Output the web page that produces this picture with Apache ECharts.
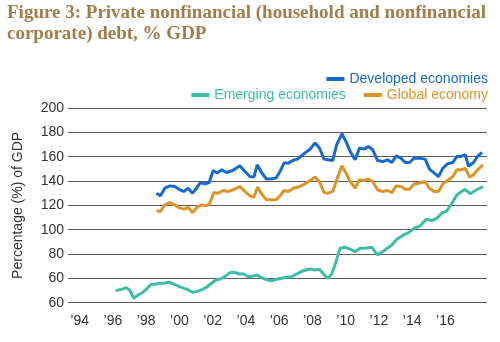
<!DOCTYPE html>
<html>
<head>
<meta charset="utf-8">
<script src="https://cdn.jsdelivr.net/npm/echarts@6/dist/echarts.min.js"></script>
<style>html,body{margin:0;padding:0;background:#fff}#c{width:500px;height:342px}</style>
</head>
<body>
<div id="c"></div>
<script>
// Tick labels
const xTickYears = [1994,1996,1998,2000,2002,2004,2006,2008,2010,2012,2014,2016];
const yTickValues = [40,60,80,100,120,140,160,180,200];
const yTickLabels = ['60','60','80','100','120','140','160','180','200'];

// Emerging economies
const emergingYears = [1996.17,1996.5,1996.8,1997.0,1997.27,1997.5,1997.77,1998.0,1998.3,1998.57,1998.77,1999.06,1999.4,1999.7,2000.0,2000.46,2000.79,2001.03,2001.33,2001.63,2001.93,2002.19,2002.43,2002.73,2003.04,2003.3,2003.6,2003.88,2004.14,2004.44,2004.68,2005.0,2005.3,2005.6,2005.84,2006.15,2006.45,2006.75,2007.05,2007.45,2007.86,2008.16,2008.42,2008.66,2008.92,2009.16,2009.42,2009.66,2009.96,2010.26,2010.57,2010.87,2011.17,2011.57,2011.91,2012.23,2012.51,2012.78,2013.08,2013.48,2013.78,2014.12,2014.48,2014.84,2015.19,2015.49,2015.79,2016.09,2016.39,2016.69,2017.05,2017.19,2017.5,2017.8,2018.26];
const emergingValues = [49.9,51.0,52.3,50.5,43.6,46.3,48.2,51.0,55.1,55.1,56.0,56.0,56.8,55.1,53.2,51.0,48.6,49.1,50.5,52.7,56.0,58.7,59.3,61.4,64.7,65.0,63.6,63.6,61.4,62.0,62.8,60.1,58.7,58.1,59.3,60.1,60.9,61.4,63.6,66.3,67.7,66.9,67.5,63.6,60.1,63.6,73.7,84.8,85.6,84.0,82.0,84.8,84.8,85.6,79.3,82.0,84.8,87.5,92.2,95.7,97.6,101.2,103.1,108.6,107.5,109.5,113.6,115.7,121.8,128.6,132.2,132.8,129.5,132.2,135.5];

// Developed economies
const developedYears = [1998.62,1998.86,1999.12,1999.42,1999.72,2000.02,2000.27,2000.52,2000.79,2001.03,2001.27,2001.53,2001.79,2002.03,2002.27,2002.54,2002.84,2003.2,2003.64,2003.94,2004.24,2004.48,2004.68,2004.94,2005.24,2005.55,2005.81,2006.05,2006.29,2006.55,2006.81,2007.1,2007.55,2007.86,2008.16,2008.42,2008.7,2008.96,2009.22,2009.46,2009.77,2010.02,2010.27,2010.57,2010.83,2011.11,2011.37,2011.63,2011.91,2012.23,2012.51,2012.78,2013.04,2013.32,2013.58,2013.84,2014.12,2014.44,2014.78,2015.04,2015.33,2015.58,2015.85,2016.13,2016.45,2016.69,2016.93,2017.19,2017.39,2017.69,2017.93,2018.2];
const developedValues = [130.0,127.8,134.1,136.0,135.5,132.8,131.4,134.1,130.0,134.1,138.8,137.7,138.8,148.6,146.5,149.2,147.0,148.6,152.5,147.8,143.7,143.2,153.3,147.0,141.6,141.8,142.4,147.8,154.7,154.7,156.9,158.0,163.0,166.2,171.2,167.1,158.0,157.4,156.9,169.8,178.8,172.5,164.3,157.4,167.1,166.2,168.4,165.7,156.9,156.0,157.4,155.2,160.7,158.8,155.2,155.2,158.8,158.8,158.0,149.8,146.5,143.7,150.6,154.2,155.2,160.2,160.2,161.6,152.0,155.2,160.2,163.5];

// Global economy
const globalYears = [1998.62,1998.86,1999.12,1999.42,1999.72,2000.02,2000.33,2000.52,2000.79,2001.07,2001.33,2001.63,2001.83,2002.07,2002.33,2002.63,2002.93,2003.23,2003.64,2003.94,2004.24,2004.48,2004.7,2004.94,2005.24,2005.55,2005.81,2006.05,2006.29,2006.55,2006.85,2007.2,2007.55,2007.86,2008.16,2008.42,2008.7,2008.96,2009.22,2009.5,2009.77,2010.02,2010.27,2010.57,2010.83,2011.11,2011.37,2011.63,2011.91,2012.23,2012.51,2012.78,2013.04,2013.32,2013.58,2013.84,2014.12,2014.48,2014.78,2015.04,2015.33,2015.58,2015.85,2016.13,2016.45,2016.69,2016.99,2017.19,2017.45,2017.69,2017.93,2018.26];
const globalValues = [115.7,114.9,120.4,122.3,120.4,117.7,116.9,118.5,114.1,118.5,120.4,119.6,121.8,130.5,130.0,132.2,131.4,132.8,135.5,131.4,127.8,126.7,135.0,129.5,124.5,124.5,124.5,127.8,132.2,131.4,134.1,135.3,137.7,140.4,143.2,139.6,130.5,130.0,131.4,142.4,152.5,146.5,139.6,134.1,141.0,140.4,141.6,139.6,132.8,131.4,132.2,130.5,136.0,135.5,133.3,133.3,137.7,138.3,139.6,134.1,131.4,131.4,137.7,140.4,143.7,149.2,149.2,150.6,143.2,145.1,149.2,153.3];

const C_DEV = '#1769cf', C_EM = '#3dbda6', C_GL = '#dc9428';
const pairs = (xs, ys) => xs.map((x, i) => [x, ys[i]]);

const chart = echarts.init(document.getElementById('c'), null, {renderer: 'canvas'});
const sansFont = '"Liberation Sans", Arial, sans-serif';
chart.setOption({
  animation: false,
  backgroundColor: '#fff',
  title: {
    text: 'Figure 3: Private nonfinancial (household and nonfinancial\ncorporate) debt, % GDP',
    left: 7, top: 3, padding: 0,
    textStyle: {fontFamily: '"Liberation Serif", "Times New Roman", serif', fontWeight: 'bold', fontSize: 19, lineHeight: 20.5, color: '#a27c49'}
  },
  legend: [
    {data: [{name: 'Developed economies', textStyle: {color: C_DEV}}], right: 12, top: 72, padding: 0, icon: 'rect', itemWidth: 18, itemHeight: 4, itemGap: 18,
     textStyle: {fontFamily: sansFont, fontSize: 14}},
    {data: [{name: 'Emerging economies', textStyle: {color: C_EM}}, {name: 'Global economy', textStyle: {color: C_GL}}], right: 12, top: 88, padding: 0, icon: 'rect', itemWidth: 18, itemHeight: 4, itemGap: 18,
     textStyle: {fontFamily: sansFont, fontSize: 14}}
  ],
  grid: {left: 68, right: 13, top: 108, bottom: 39.3, containLabel: false},
  xAxis: {
    type: 'value', min: 1993.3, max: 2018.5,
    axisLine: {show: false}, axisTick: {show: false}, splitLine: {show: false},
    axisLabel: {customValues: xTickYears, margin: 11, color: '#333', fontFamily: sansFont, fontSize: 14,
      formatter: v => '\u2019' + String(Math.round(v)).slice(2)}
  },
  yAxis: {
    type: 'value', min: yTickValues[0], max: yTickValues[yTickValues.length - 1], interval: 20,
    name: 'Percentage (%) of GDP', nameLocation: 'middle', nameGap: 43, nameRotate: 90,
    nameTextStyle: {fontFamily: sansFont, fontSize: 14, color: '#333'},
    axisLine: {show: false}, axisTick: {show: false},
    splitLine: {lineStyle: {color: '#5a5a5a', width: 1}},
    axisLabel: {margin: 4, color: '#333', fontFamily: sansFont, fontSize: 14,
      formatter: v => { const i = yTickValues.indexOf(v); return i >= 0 ? yTickLabels[i] : ''; }}
  },
  series: [
    {name: 'Developed economies', type: 'line', data: pairs(developedYears, developedValues), showSymbol: false, lineStyle: {color: C_DEV, width: 3}, itemStyle: {color: C_DEV}, z: 3},
    {name: 'Emerging economies', type: 'line', data: pairs(emergingYears, emergingValues), showSymbol: false, lineStyle: {color: C_EM, width: 3}, itemStyle: {color: C_EM}, z: 2},
    {name: 'Global economy', type: 'line', data: pairs(globalYears, globalValues), showSymbol: false, lineStyle: {color: C_GL, width: 3}, itemStyle: {color: C_GL}, z: 2}
  ]
});
</script>
</body>
</html>
